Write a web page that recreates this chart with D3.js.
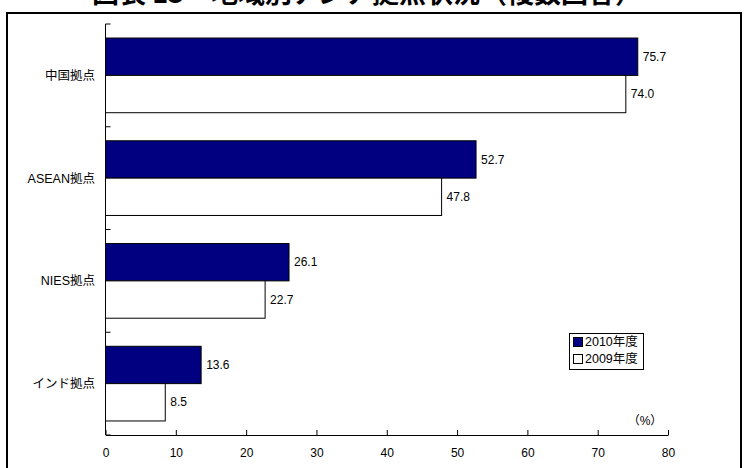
<!DOCTYPE html>
<html><head><meta charset="utf-8">
<script src="https://cdn.jsdelivr.net/npm/d3@7"></script>
<style>
body{margin:0;background:#fff;}
svg{display:block;}
text{font-family:"Liberation Sans",Arial,"Noto Sans CJK JP",sans-serif;fill:#000;}
</style></head>
<body><svg id="c" width="744" height="468"></svg>
<script>
const categories = ["中国拠点","ASEAN拠点","NIES拠点","インド拠点"];
const series = ["2010年度","2009年度"];
const values2010 = [75.7, 52.7, 26.1, 13.6];
const values2009 = [74.0, 47.8, 22.7, 8.5];
const xTicks = [0,10,20,30,40,50,60,70,80];
const title = "図表 13　地域別アジア拠点状況（複数回答）";

(function(){
const svg = d3.select("#c");
// frame
svg.append("rect").attr("x",7).attr("y",13).attr("width",734).attr("height",480)
  .attr("fill","none").attr("stroke","#000").attr("stroke-width",2);
// title (cut off at top, as in the reference)
svg.append("text").attr("x",367).attr("y",3).attr("text-anchor","middle")
  .style("font-size","27px").style("font-weight","bold")
  .style("font-family","'Noto Sans CJK JP','Liberation Sans',sans-serif").text(title);

const pL=105.5, pR=668, pT=24, pB=435;
const x = d3.scaleLinear().domain([0,80]).range([pL,pR]);
const y = d3.scaleBand().domain(categories).range([pT,pB]).paddingInner(0).paddingOuter(0);
const inner = d3.scaleBand().domain(series).range([0,y.bandwidth()]).paddingOuter(0.376).paddingInner(0);

const rows = categories.map((c,i)=>({c, v:[values2010[i], values2009[i]]}));
const g = svg.append("g");
rows.forEach(r=>{
  series.forEach((s,j)=>{
    const val=r.v[j];
    const yy=y(r.c)+inner(s);
    g.append("rect").attr("x",x(0)).attr("y",yy).attr("width",x(val)-x(0)).attr("height",inner.bandwidth())
      .attr("fill", j===0?"#000080":"#fff").attr("stroke","#000").attr("stroke-width",1);
    g.append("text").attr("x",x(val)+5).attr("y",yy+inner.bandwidth()/2).attr("dy","0.35em")
      .style("font-size","12px").text(val.toFixed(1));
  });
});

// x axis with inward ticks
const xAxis = d3.axisBottom(x).tickValues(xTicks).tickSizeInner(-5).tickSizeOuter(0).tickPadding(0);
const xa = svg.append("g").attr("transform",`translate(0,${pB})`).call(xAxis);
xa.select(".domain").attr("stroke","#000");
xa.selectAll(".tick line").attr("stroke","#000");
xa.selectAll(".tick text").attr("y",18).attr("dy","0.35em").style("font-size","12px").style("font-family","'Liberation Sans',Arial,sans-serif");

// y axis with inward ticks at band boundaries
const yb = [pT, ...categories.map(c=>y(c)+y.bandwidth())];
svg.append("line").attr("x1",pL).attr("x2",pL).attr("y1",pT).attr("y2",pB).attr("stroke","#000");
yb.forEach(v=>{
  svg.append("line").attr("x1",pL).attr("x2",pL+5).attr("y1",v).attr("y2",v).attr("stroke","#000");
});
categories.forEach(c=>{
  svg.append("text").attr("x",95).attr("y",y(c)+y.bandwidth()/2).attr("dy","0.35em")
    .attr("text-anchor","end").style("font-size","12.5px").text(c);
});

// unit label
svg.append("text").attr("x",645).attr("y",425).attr("text-anchor","middle")
  .style("font-size","12px").text("（%）");

// legend
const lg = svg.append("g");
lg.append("rect").attr("x",569.5).attr("y",333.5).attr("width",74).attr("height",36)
  .attr("fill","#fff").attr("stroke","#000").attr("stroke-width",1);
series.forEach((s,i)=>{
  const yy = 342+i*17;
  lg.append("rect").attr("x",573.5).attr("y",yy-4.5).attr("width",9).attr("height",9)
    .attr("fill", i===0?"#000080":"#fff").attr("stroke","#000").attr("stroke-width",1);
  lg.append("text").attr("x",585).attr("y",yy).attr("dy","0.35em").style("font-size","12.5px").text(s);
});
})();
</script></body></html>
